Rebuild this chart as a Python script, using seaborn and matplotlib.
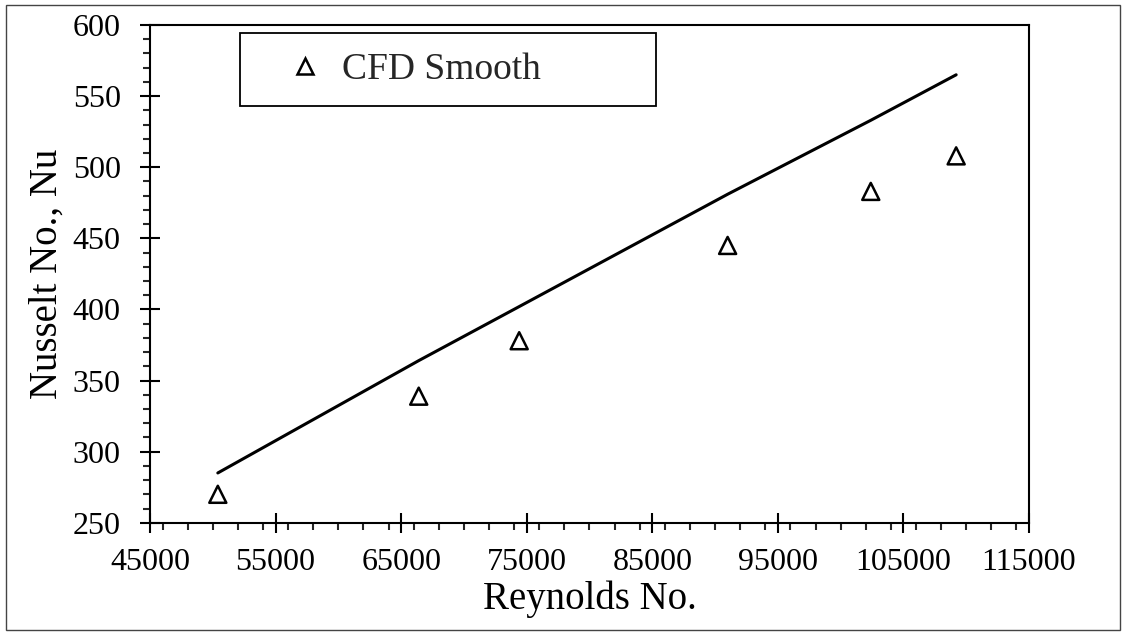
import matplotlib
matplotlib.use("Agg")
import matplotlib.pyplot as plt
from matplotlib.patches import Rectangle
from matplotlib.ticker import MultipleLocator
import seaborn as sns
import pandas as pd

# CFD results for the smooth tube
reynolds = [50400, 66400, 74400, 91000, 102400, 109200]
nusselt_cfd = [270, 339, 378, 445, 483, 508]
# Empirical correlation evaluated at the same Reynolds numbers
nusselt_corr = [285, 364, 402, 481, 533, 565]

x_ticks = [45000, 55000, 65000, 75000, 85000, 95000, 105000, 115000]
y_ticks = [250, 300, 350, 400, 450, 500, 550, 600]

sns.set_style("ticks")
plt.rcParams["font.family"] = ["Liberation Serif", "DejaVu Serif"]

df = pd.DataFrame({"Re": reynolds, "Nu_cfd": nusselt_cfd, "Nu_corr": nusselt_corr})

fig = plt.figure(figsize=(11.22, 6.32), dpi=100)
ax = fig.add_axes([0.1337, 0.1729, 0.7834, 0.7875])

sns.lineplot(data=df, x="Re", y="Nu_corr", ax=ax, color="black", linewidth=2.2,
             legend=False)
sns.scatterplot(data=df, x="Re", y="Nu_cfd", ax=ax, marker="^", s=150,
                facecolor="none", edgecolor="black", linewidth=1.8,
                legend=False, zorder=3)

ax.set_xlim(45000, 115000)
ax.set_ylim(250, 600)
ax.set_xticks(x_ticks)
ax.set_yticks(y_ticks)
ax.xaxis.set_minor_locator(MultipleLocator(2000))
ax.yaxis.set_minor_locator(MultipleLocator(10))

ax.tick_params(which="major", direction="inout", length=14, width=1.5,
               labelsize=23, colors="black")
ax.tick_params(axis="y", which="major", pad=14)
ax.tick_params(axis="x", which="major", pad=11)
ax.tick_params(which="minor", direction="out", length=5, width=1.5)
ax.tick_params(top=False, right=False, which="both")
for sp in ax.spines.values():
    sp.set_linewidth(1.5)
    sp.set_color("black")

ax.set_xlabel("Reynolds No.", fontsize=28, labelpad=3, color="black")
ax.set_ylabel("Nusselt No., Nu", fontsize=28, labelpad=5, color="black")

# Legend showing only the CFD series
handle = plt.Line2D([], [], linestyle="none", marker="^", markersize=11,
                    markerfacecolor="none", markeredgecolor="black",
                    markeredgewidth=1.8)
ax.legend([handle], ["CFD Smooth"], loc="center left",
          bbox_to_anchor=(0.1573, 0.910), frameon=False, fontsize=27,
          borderpad=0, borderaxespad=0, handlelength=0.9, handletextpad=0.52)
ax.add_patch(Rectangle((0.1024, 0.837), 0.4732, 0.146, transform=ax.transAxes,
                       fill=False, edgecolor="black", linewidth=1.3,
                       clip_on=False, zorder=5))

# Thin frame around the whole figure
fig.add_artist(Rectangle((0.0053, 0.0032), 0.9925, 0.9889,
                         transform=fig.transFigure, fill=False,
                         edgecolor="#444444", linewidth=1.0))

fig.savefig("out.png", dpi=100)
